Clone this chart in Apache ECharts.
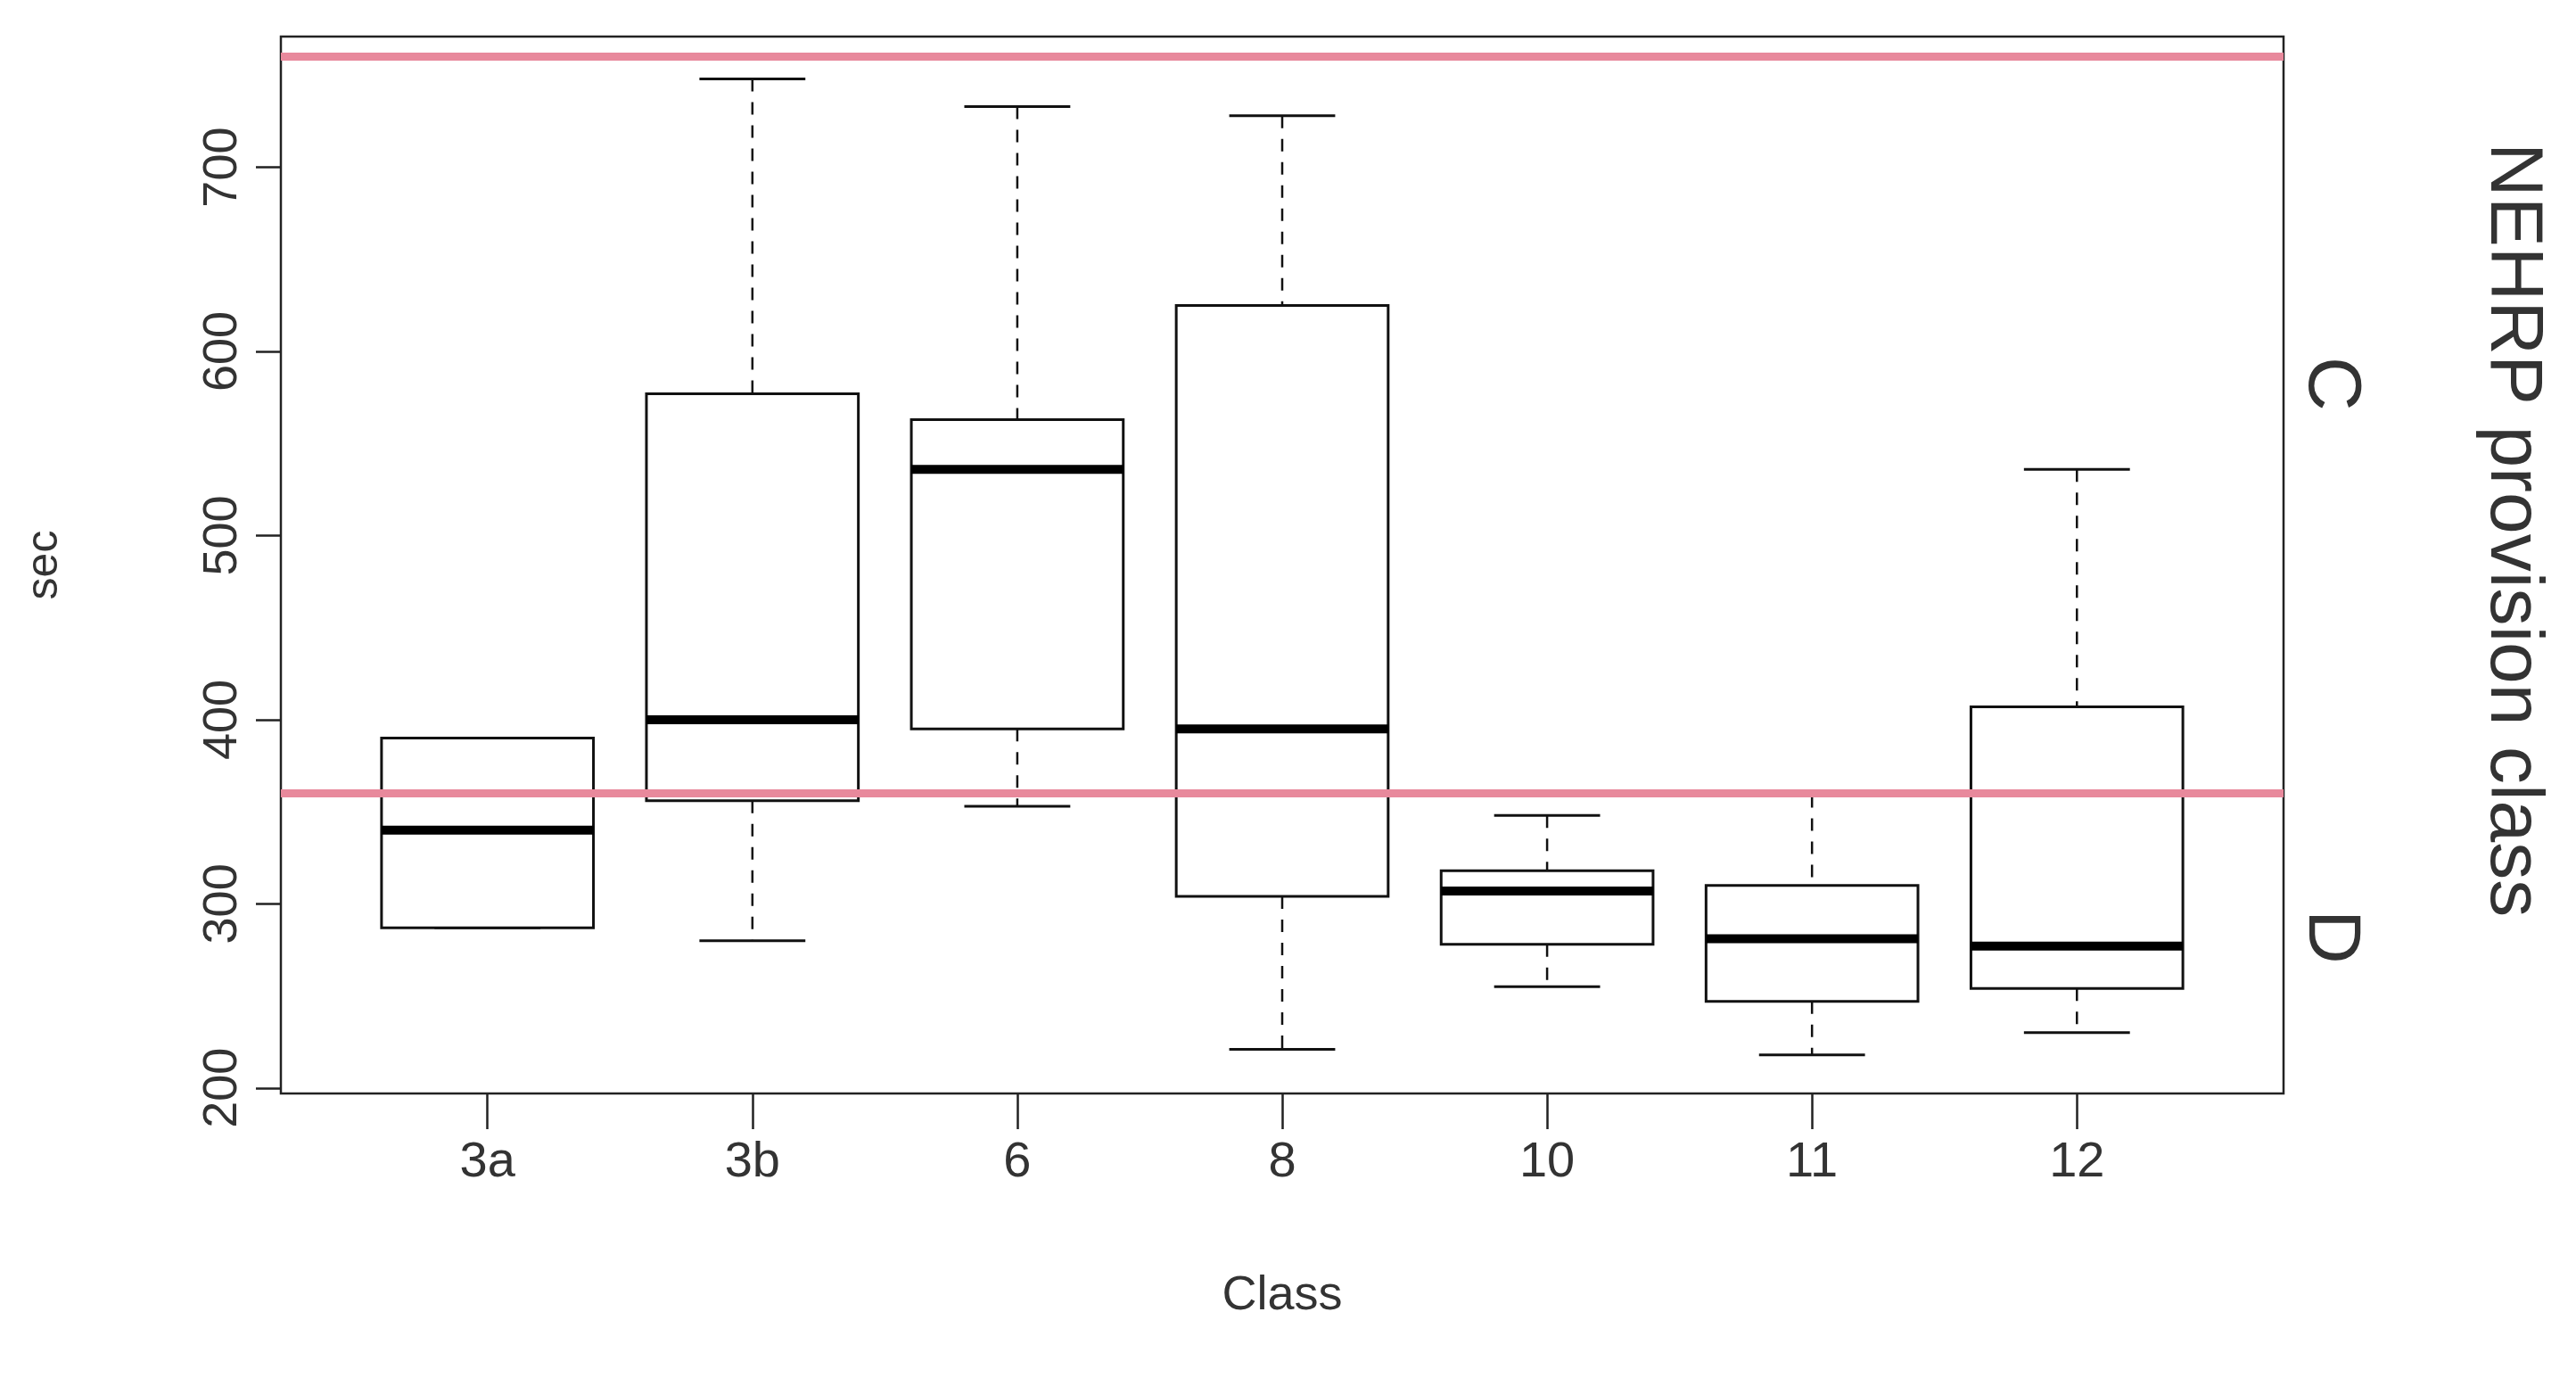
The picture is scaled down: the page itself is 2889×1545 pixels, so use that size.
<!DOCTYPE html>
<html><head><meta charset="utf-8">
<script src="https://cdn.jsdelivr.net/npm/echarts@6/dist/echarts.min.js"></script>
<style>html,body{margin:0;padding:0;background:#fff}#c{width:2889px;height:1545px}</style>
</head><body><div id="c"></div>
<script>
const categories = ['3a','3b','6','8','10','11','12'];
const lowWhisker = [287,280,353,221,255,218,230];
const q1 = [287,356,395,304,278,247,254];
const median = [340,400,536,395,307,281,277];
const q3 = [390,577,563,625,318,310,407];
const highWhisker = [390,748,733,728,348,359,536];
const provisionLines = [360,760];
const yTicks = [200,300,400,500,600,700];

const boxData = categories.map((c,i)=>[i+1,lowWhisker[i],q1[i],median[i],q3[i],highWhisker[i]]);
const ink = '#111';
function renderBox(params, api){
  const x = api.value(0);
  const half = api.size([0.4,0])[0];
  const cap = api.size([0.2,0])[0];
  const p = k => api.coord([x, api.value(k)]);
  const lo=p(1), a=p(2), m=p(3), b=p(4), hi=p(5);
  const cx = lo[0];
  const dash = {stroke:ink,lineWidth:2.5,lineDash:[14,12]};
  const solid = {stroke:ink,lineWidth:3};
  return {type:'group',children:[
    {type:'line',shape:{x1:cx,y1:hi[1],x2:cx,y2:b[1]},style:dash},
    {type:'line',shape:{x1:cx,y1:a[1],x2:cx,y2:lo[1]},style:dash},
    {type:'line',shape:{x1:cx-cap,y1:hi[1],x2:cx+cap,y2:hi[1]},style:solid},
    {type:'line',shape:{x1:cx-cap,y1:lo[1],x2:cx+cap,y2:lo[1]},style:solid},
    {type:'rect',shape:{x:cx-half,y:b[1],width:2*half,height:a[1]-b[1]},style:{fill:'#fff',stroke:ink,lineWidth:3}},
    {type:'line',shape:{x1:cx-half,y1:m[1],x2:cx+half,y2:m[1]},style:{stroke:'#000',lineWidth:10}}
  ]};
}
const chart = echarts.init(document.getElementById('c'));
chart.setOption({
  animation:false,
  grid:{left:315,right:328,top:41,bottom:319,show:true,borderColor:'#222',borderWidth:2.5,backgroundColor:'#fff'},
  xAxis:{type:'value',min:0.22,max:7.78,
    axisLine:{show:false},splitLine:{show:false},
    axisTick:{show:true,length:40,lineStyle:{color:'#222',width:2.5},customValues:[1,2,3,4,5,6,7]},
    axisLabel:{fontSize:56,color:'#333',margin:50,fontFamily:'Liberation Sans',customValues:[1,2,3,4,5,6,7],formatter:v=>categories[Math.round(v)-1]},
    name:'Class',nameLocation:'middle',nameGap:200,nameTextStyle:{fontSize:54,color:'#333',fontFamily:'Liberation Sans'}},
  yAxis:{type:'value',min:197,max:771,
    axisLine:{show:false},splitLine:{show:false},
    axisTick:{show:true,length:28,lineStyle:{color:'#222',width:2.5},customValues:yTicks},
    axisLabel:{fontSize:54,color:'#333',rotate:90,margin:38,fontFamily:'Liberation Sans',customValues:yTicks},
    name:'sec',nameLocation:'middle',nameGap:240,nameRotate:90,nameTextStyle:{fontSize:50,color:'#333',fontFamily:'Liberation Sans'}},
  series:[
    {type:'custom',renderItem:renderBox,data:boxData,z:2},
    {type:'line',data:[],z:3,markLine:{silent:true,symbol:'none',label:{show:false},
      lineStyle:{color:'#e8899c',width:9,type:'solid'},
      data:provisionLines.map(v=>({yAxis:v}))}}
  ],
  graphic:[
    {type:'text',left:2775,top:160,rotation:-Math.PI/2,originX:0,originY:0,
     style:{text:'NEHRP provision class',fontSize:84,fill:'#333',fontFamily:'Liberation Sans'}},
    {type:'text',x:2655,y:400,rotation:-Math.PI/2,style:{text:'C',fontSize:84,fill:'#333',fontFamily:'Liberation Sans'}},
    {type:'text',x:2655,y:1020,rotation:-Math.PI/2,style:{text:'D',fontSize:84,fill:'#333',fontFamily:'Liberation Sans'}}
  ]
});
</script></body></html>
